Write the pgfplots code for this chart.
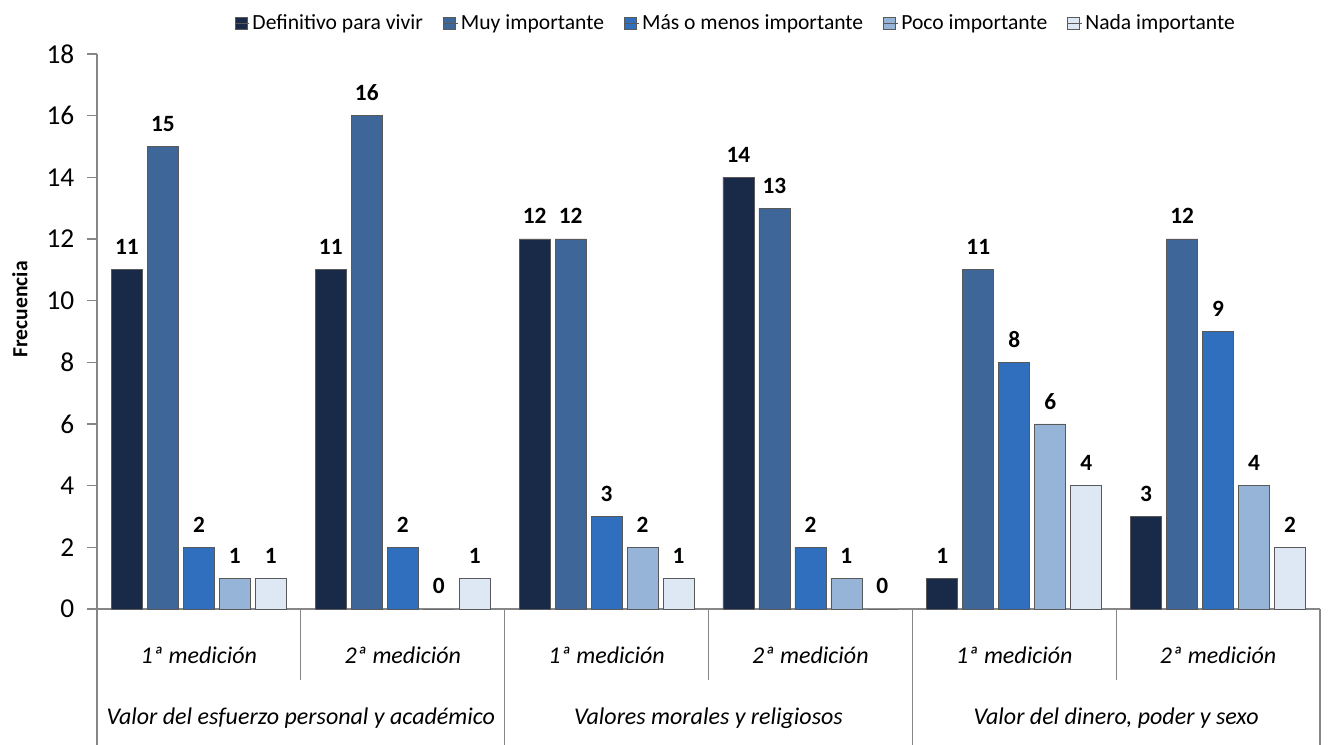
\documentclass[border=0pt]{standalone}
\usepackage{pgfplots}
\pgfplotsset{compat=1.18}
\usepackage{fontspec}
\setmainfont{Carlito}
\definecolor{c1}{RGB}{24,42,72}
\definecolor{c2}{RGB}{62,102,152}
\definecolor{c3}{RGB}{48,110,190}
\definecolor{c4}{RGB}{150,180,216}
\definecolor{c5}{RGB}{222,232,245}
\definecolor{axgray}{RGB}{134,134,134}
\pgfplotsset{
  mybar/.style={ybar, bar width=0.152, bar shift=0, draw=gray!70!black, line width=0.5pt,
    legend image code/.code={\draw[##1, line width=0.4pt] (0pt,-4.5pt) rectangle (9pt,4.5pt); \path (0pt,0pt) -- (11pt,0pt);}},
}
\begin{document}
\begin{tikzpicture}
\path[use as bounding box] (-72.75pt,-102pt) rectangle (923.25pt,456.75pt);
\begin{axis}[
  scale only axis, width=917.25pt, height=416.25pt,
  xmin=0, xmax=6, ymin=0, ymax=18,
  ytick={0,2,...,18},
  xtick={0.5,1.5,2.5,3.5,4.5,5.5},
  xticklabels={1ª medición,2ª medición,1ª medición,2ª medición,1ª medición,2ª medición},
  xticklabel style={font=\fontsize{18}{20}\selectfont\itshape, anchor=center, yshift=-27pt},
  yticklabel style={font=\fontsize{20.5}{22}\selectfont, xshift=-6pt},
  /pgf/number format/assume math mode=true,
  axis lines=left,
  axis line style={-, draw=axgray, line width=0.8pt},
  major x tick style={draw=none},
  major y tick style={draw=axgray, line width=0.8pt},
  tick align=outside, major tick length=7.5pt,
  ylabel={\textbf{Frecuencia}},
  ylabel style={font=\fontsize{16.2}{18}\selectfont, at={(axis description cs:-0.063,0.54)}, anchor=center},
  nodes near coords,
  every node near coord/.append style={font=\bfseries\fontsize{17.5}{19}\selectfont, anchor=center, yshift=17pt, text=black},
  clip=false,
  legend style={draw=none, font=\fontsize{16.2}{18}\selectfont, legend columns=-1,
    at={(rel axis cs:0.5225,1)}, anchor=center, yshift=23pt,
    /tikz/every even column/.append style={column sep=13pt}},
  legend cell align=left,
]
\addplot[mybar, fill=c1] coordinates {(0.147,11) (1.147,11) (2.147,12) (3.147,14) (4.147,1) (5.147,3)};
\addplot[mybar, fill=c2] coordinates {(0.3235,15) (1.3235,16) (2.3235,12) (3.3235,13) (4.3235,11) (5.3235,12)};
\addplot[mybar, fill=c3] coordinates {(0.5,2) (1.5,2) (2.5,3) (3.5,2) (4.5,8) (5.5,9)};
\addplot[mybar, fill=c4] coordinates {(0.6765,1) (1.6765,0) (2.6765,2) (3.6765,1) (4.6765,6) (5.6765,4)};
\addplot[mybar, fill=c5] coordinates {(0.853,1) (1.853,1) (2.853,1) (3.853,0) (4.853,4) (5.853,2)};
\legend{Definitivo para vivir, Muy importante, Más o menos importante, Poco importante, Nada importante}
\draw[axgray, line width=0.8pt] (axis cs:0,0) -- ++(0,-102pt);
\draw[axgray, line width=0.8pt] (axis cs:2,0) -- ++(0,-102pt);
\draw[axgray, line width=0.8pt] (axis cs:4,0) -- ++(0,-102pt);
\draw[axgray, line width=0.8pt] (axis cs:6,0) -- ++(0,-102pt);
\draw[axgray, line width=0.8pt] (axis cs:1,0) -- ++(0,-53pt);
\draw[axgray, line width=0.8pt] (axis cs:3,0) -- ++(0,-53pt);
\draw[axgray, line width=0.8pt] (axis cs:5,0) -- ++(0,-53pt);
\node[font=\fontsize{18}{20}\selectfont\itshape] at (axis cs:1,0) [yshift=-82pt] {Valor del esfuerzo personal y académico};
\node[font=\fontsize{18}{20}\selectfont\itshape] at (axis cs:3,0) [yshift=-82pt] {Valores morales y religiosos};
\node[font=\fontsize{18}{20}\selectfont\itshape] at (axis cs:5,0) [yshift=-82pt] {Valor del dinero, poder y sexo};
\end{axis}
\end{tikzpicture}
\end{document}
